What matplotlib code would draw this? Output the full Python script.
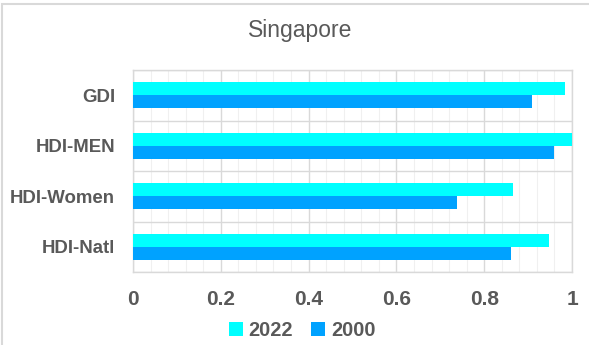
import matplotlib
matplotlib.use("Agg")
import matplotlib.pyplot as plt
import numpy as np
from matplotlib.ticker import MultipleLocator
from matplotlib.patches import Rectangle

categories = ["GDI", "HDI-MEN", "HDI-Women", "HDI-Natl"]
values_2022 = [0.985, 1.0, 0.866, 0.948]
values_2000 = [0.908, 0.958, 0.738, 0.862]
series_labels = ["2022", "2000"]
xticks = [0, 0.2, 0.4, 0.6, 0.8, 1]
xtick_labels = ["0", "0.2", "0.4", "0.6", "0.8", "1"]

c2022 = "#00FFFF"
c2000 = "#00A2FF"
txt = "#595959"

fig = plt.figure(figsize=(5.89, 3.45), dpi=100)
fig.patch.set_facecolor("white")
fig.add_artist(Rectangle((0.004, -0.01), 1.0, 0.998, transform=fig.transFigure,
                         fill=False, edgecolor="#d9d9d9", linewidth=1.5))

ax = fig.add_axes([133/589, 1-272/345, (572-133)/589, (272-70)/345])

n = len(categories)
y = np.arange(n)[::-1].astype(float)
h = 0.255
ax.barh(y + h/2, values_2022, height=h, color=c2022, label=series_labels[0], zorder=3)
ax.barh(y - h/2, values_2000, height=h, color=c2000, label=series_labels[1], zorder=3)

ax.set_xlim(0, 1)
ax.set_ylim(-0.5, n - 0.5)
ax.set_xticks(xticks)
ax.set_xticklabels(xtick_labels)
ax.xaxis.set_minor_locator(MultipleLocator(0.04))
ax.set_yticks(y)
ax.set_yticklabels(categories)
ax.set_yticks(np.arange(-0.5, n, 1.0), minor=True)

ax.grid(which="major", axis="x", color="#d9d9d9", linewidth=1.0, zorder=0)
ax.grid(which="minor", axis="x", color="#f0f0f0", linewidth=0.8, zorder=0)
ax.grid(which="minor", axis="y", color="#d9d9d9", linewidth=1.0, zorder=0)

for s in ax.spines.values():
    s.set_color("#d9d9d9")
    s.set_linewidth(1.0)

ax.tick_params(axis="both", which="both", length=0)
ax.tick_params(axis="x", pad=13, labelsize=15, colors=txt)
ax.tick_params(axis="y", pad=13, labelsize=13.4, colors=txt)
for lab in ax.get_xticklabels() + ax.get_yticklabels():
    lab.set_fontweight("bold")
    lab.set_family("Liberation Sans")

fig.text(300/589, 1-30/345, "Singapore", ha="center", va="center",
         fontsize=16.5, color=txt, family="Liberation Sans")

leg = fig.legend(loc="center", bbox_to_anchor=(302/589, 1-330/345), ncol=2, frameon=False,
                 handlelength=0.7, handleheight=0.7, handletextpad=0.3, columnspacing=0.9,
                 prop={"family": "Liberation Sans", "weight": "bold", "size": 14.3})
for t in leg.get_texts():
    t.set_color(txt)

fig.savefig("out.png", dpi=100, facecolor="white")
